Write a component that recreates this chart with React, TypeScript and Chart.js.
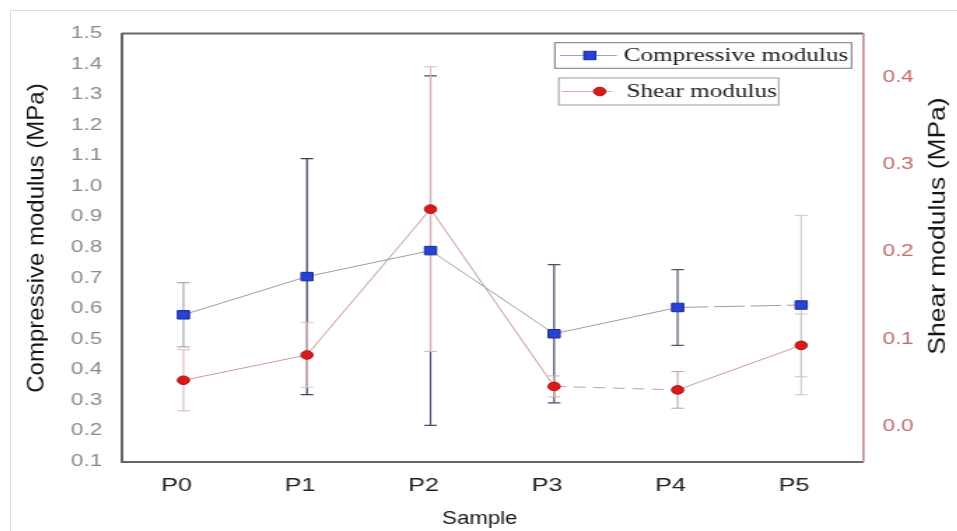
import { useEffect, useRef } from 'react';
import { Chart, registerables } from 'chart.js';

Chart.register(...registerables);

// ---- data ----
const SAMPLES = ['P0', 'P1', 'P2', 'P3', 'P4', 'P5'];
const COMPRESSIVE = [0.58, 0.705, 0.79, 0.518, 0.604, 0.612];
const COMPRESSIVE_ERR = [0.105, 0.386, 0.572, 0.226, 0.124, 0.293];
const SHEAR = [0.053, 0.082, 0.249, 0.046, 0.042, 0.093];
const SHEAR_ERR = [0.035, 0.037, 0.163, 0.012, 0.021, 0.036];
const LEFT_TICKS = [0.1, 0.2, 0.3, 0.4, 0.5, 0.6, 0.7, 0.8, 0.9, 1.0, 1.1, 1.2, 1.3, 1.4, 1.5];
const RIGHT_TICKS = [0.0, 0.1, 0.2, 0.3, 0.4];
const COMP_LABEL = 'Compressive modulus';
const SHEAR_LABEL = 'Shear modulus';
const LEFT_TITLE = 'Compressive modulus (MPa)';
const RIGHT_TITLE = 'Shear modulus (MPa)';
const X_TITLE = 'Sample';

// ---- styles ----
const COMP_ERR_COLORS = ['#a9a9b2', '#3e3e5e', '#4a4a6a', '#4a4a6a', '#55556f', '#d2d2d2'];
const SHEAR_ERR_COLORS = ['#d6b4b4', '#dcc2c2', '#dcb4b4', '#d0b0b0', '#b9a2a2', '#c9c4c4'];
const SX = 1.4; // horizontal stretch of the picture
const W = 676;
const H = 521;

const errorBars = {
  id: 'errorBars',
  beforeDatasetsDraw(chart: any) {
    const ctx = chart.ctx;
    chart.data.datasets.forEach((ds: any, i: number) => {
      const meta = chart.getDatasetMeta(i);
      const ys = chart.scales[meta.yAxisID];
      ctx.save();
      ctx.lineWidth = ds.errorWidth;
      meta.data.forEach((pt: any, j: number) => {
        const v = ds.data[j];
        const e = ds.errors[j];
        const yt = ys.getPixelForValue(v + e);
        const yb = ys.getPixelForValue(v - e);
        const x = pt.x;
        const c = ds.capHalf;
        ctx.strokeStyle = ds.errorColors[j];
        ctx.beginPath();
        ctx.moveTo(x, yt);
        ctx.lineTo(x, yb);
        ctx.moveTo(x - c, yt);
        ctx.lineTo(x + c, yt);
        ctx.moveTo(x - c, yb);
        ctx.lineTo(x + c, yb);
        ctx.stroke();
      });
      ctx.restore();
    });
  },
};

const decorations = {
  id: 'decorations',
  afterDraw(chart: any) {
    const ctx = chart.ctx;
    const a = chart.chartArea;
    ctx.save();
    // top frame line
    ctx.strokeStyle = '#666';
    ctx.lineWidth = 2;
    ctx.beginPath();
    ctx.moveTo(a.left, a.top);
    ctx.lineTo(a.right, a.top);
    ctx.stroke();

    // axis titles
    ctx.fillStyle = '#151515';
    ctx.textAlign = 'center';
    ctx.textBaseline = 'middle';
    // left
    ctx.save();
    ctx.translate(18.9, 228);
    ctx.scale(1 / SX, 1);
    ctx.rotate(-Math.PI / 2);
    ctx.font = '24px "Liberation Sans", Arial, sans-serif';
    ctx.fillText(LEFT_TITLE, 0, 0);
    ctx.restore();
    // right
    ctx.save();
    ctx.translate(663.9, 216);
    ctx.scale(1 / SX, 1);
    ctx.rotate(-Math.PI / 2);
    ctx.scale(1.15, 1);
    ctx.font = '23px "Liberation Sans", Arial, sans-serif';
    ctx.fillText(RIGHT_TITLE, 0, 0);
    ctx.restore();
    // bottom
    ctx.save();
    ctx.translate(335.7, 509);
    ctx.scale(1 / 1.2, 1);
    ctx.font = '19px "Liberation Sans", Arial, sans-serif';
    ctx.fillText(X_TITLE, 0, 0);
    ctx.restore();

    // legend
    const boxes = [
      { x: 389.3, y: 32.7, w: 212, h: 25.6, lx0: 392.9, lx1: 433.6, mx: 414.3, tx: 438.6, line: '#9aa4cc', border: '#777' },
      { x: 392.1, y: 68, w: 157.2, h: 27, lx0: 394.3, lx1: 430, mx: 421.4, tx: 440.5, line: '#e2a6a6', border: '#9a9a9a' },
    ];
    boxes.forEach((b, i) => {
      const ds = chart.data.datasets[i];
      const cy = b.y + b.h / 2;
      ctx.strokeStyle = b.border;
      ctx.lineWidth = 1;
      ctx.strokeRect(b.x, b.y, b.w, b.h);
      ctx.strokeStyle = b.line;
      ctx.beginPath();
      ctx.moveTo(b.lx0, cy);
      ctx.lineTo(b.lx1, cy);
      ctx.stroke();
      ctx.fillStyle = ds.pointBackgroundColor;
      ctx.strokeStyle = ds.pointBorderColor;
      if (ds.pointStyle === 'rect') {
        ctx.fillRect(b.mx - 4.2, cy - 4.2, 8.4, 8.4);
        ctx.strokeRect(b.mx - 4.2, cy - 4.2, 8.4, 8.4);
      } else {
        ctx.beginPath();
        ctx.arc(b.mx, cy, 4.3, 0, Math.PI * 2);
        ctx.fill();
        ctx.stroke();
      }
      ctx.fillStyle = '#1c1c1c';
      ctx.textAlign = 'left';
      ctx.font = '18px "Liberation Serif", "Times New Roman", serif';
      ctx.fillText(ds.label, b.tx, cy + 1);
    });
    ctx.restore();
  },
};

export default function App() {
  const ref = useRef<HTMLCanvasElement | null>(null);

  useEffect(() => {
    if (!ref.current) return;
    const chart = new Chart(ref.current, {
      type: 'line',
      data: {
        labels: SAMPLES,
        datasets: [
          {
            label: COMP_LABEL,
            data: COMPRESSIVE,
            errors: COMPRESSIVE_ERR,
            errorColors: COMP_ERR_COLORS,
            errorWidth: 1.2,
            capHalf: 4.5,
            yAxisID: 'y',
            borderColor: '#9c9c9c',
            borderWidth: 1,
            pointStyle: 'rect',
            pointRadius: 6,
            pointBackgroundColor: '#2742d4',
            pointBorderColor: '#1b2c96',
            pointBorderWidth: 1,
            tension: 0,
            segment: {
              borderDash: (c: any) => (c.p0DataIndex === 4 ? [22, 4] : undefined),
            },
          } as any,
          {
            label: SHEAR_LABEL,
            data: SHEAR,
            errors: SHEAR_ERR,
            errorColors: SHEAR_ERR_COLORS,
            errorWidth: 1,
            capHalf: 4.5,
            yAxisID: 'y2',
            borderColor: '#c99c9c',
            borderWidth: 1,
            pointStyle: 'circle',
            pointRadius: 4.3,
            pointBackgroundColor: '#d81a1a',
            pointBorderColor: '#b31212',
            pointBorderWidth: 1,
            tension: 0,
            segment: {
              borderDash: (c: any) => (c.p0DataIndex === 3 ? [8.5, 5.5] : undefined),
            },
          } as any,
        ],
      },
      options: {
        animation: false,
        responsive: false,
        maintainAspectRatio: false,
        devicePixelRatio: 1,
        layout: { padding: { top: 17, left: 0, right: 0, bottom: 0 } },
        plugins: {
          legend: { display: false },
          tooltip: { enabled: false },
        },
        scales: {
          x: {
            type: 'category',
            offset: true,
            grid: { display: false, drawTicks: false },
            border: { display: true, color: '#666', width: 2 },
            ticks: {
              color: '#222',
              font: { family: '"Liberation Sans", Arial, sans-serif', size: 18 },
              padding: 14,
              labelOffset: -5,
              maxRotation: 0,
              autoSkip: false,
            },
            afterFit: (s: any) => { s.height = 69.5; },
          },
          y: {
            type: 'linear',
            position: 'left',
            min: 0.1,
            max: 1.5,
            grid: { display: false, drawTicks: false },
            border: { display: true, color: '#666', width: 2 },
            afterBuildTicks: (s: any) => { s.ticks = LEFT_TICKS.map((v) => ({ value: v })); },
            ticks: {
              color: '#8a8a8a',
              font: { family: '"Liberation Sans", Arial, sans-serif', size: 16 },
              padding: 14,
              autoSkip: false,
              callback: (v: any) => Number(v).toFixed(1),
            },
            afterFit: (s: any) => { s.width = 79.8; },
          },
          y2: {
            type: 'linear',
            position: 'right',
            min: -0.04,
            max: 0.45,
            grid: { display: false, drawTicks: false },
            border: { display: true, color: '#c48a8a', width: 1.6 },
            afterBuildTicks: (s: any) => { s.ticks = RIGHT_TICKS.map((v) => ({ value: v })); },
            ticks: {
              color: '#c46a6a',
              font: { family: '"Liberation Sans", Arial, sans-serif', size: 16 },
              padding: 14,
              autoSkip: false,
              callback: (v: any) => Number(v).toFixed(1),
            },
            afterFit: (s: any) => { s.width = 66.5; },
          },
        },
      } as any,
      plugins: [errorBars, decorations],
    });
    return () => chart.destroy();
  }, []);

  return (
    <>
      <div
        style={{
          position: 'fixed',
          left: 10,
          top: 10,
          width: 947,
          height: 521,
          borderTop: '1px solid #dcdcdc',
          borderLeft: '1px solid #dcdcdc',
          boxSizing: 'border-box',
        }}
      />
      <canvas
        ref={ref}
        width={W}
        height={H}
        style={{
          position: 'fixed',
          left: 10,
          top: 10,
          width: `${W * SX}px`,
          height: `${H}px`,
        }}
      />
    </>
  );
}
